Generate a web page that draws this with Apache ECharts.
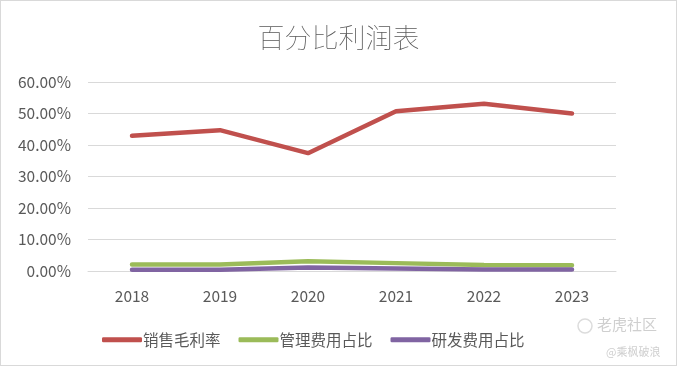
<!DOCTYPE html>
<html><head><meta charset="utf-8">
<script src="https://cdn.jsdelivr.net/npm/echarts@6/dist/echarts.min.js"></script>
<style>html,body{margin:0;padding:0;background:#fff}#c{width:677px;height:366px;box-sizing:border-box;border:1px solid #d9d9d9}</style>
</head><body><div id="c"></div>
<script>
const years = ['2018','2019','2020','2021','2022','2023'];
const grossMargin = [0.429, 0.447, 0.374, 0.507, 0.531, 0.500];
const adminRatio = [0.021, 0.021, 0.031, 0.025, 0.019, 0.018];
const rdRatio = [0.004, 0.004, 0.011, 0.008, 0.005, 0.005];
const seriesNames = ['销售毛利率','管理费用占比','研发费用占比'];
const colors = ['#C0504D','#9BBB59','#8064A2'];
const chart = echarts.init(document.getElementById('c'));
const font = '"Microsoft YaHei","Noto Sans CJK SC",sans-serif';
chart.setOption({
  animation:false,
  color: colors,
  title:{text:'百分比利润表',left:'center',top:18,textStyle:{fontFamily:font,fontSize:27,fontWeight:'lighter',color:'#595959'}},
  grid:{left:87,right:60,top:81,bottom:94,containLabel:false},
  legend:{top:326,left:96,itemWidth:40,itemHeight:5,itemGap:18,icon:'roundRect',
    textStyle:{fontFamily:font,fontSize:15.5,color:'#595959',padding:[0,0,0,-4]},data:seriesNames},
  xAxis:{type:'category',data:years,boundaryGap:true,axisLine:{lineStyle:{color:'#d9d9d9'}},axisTick:{show:false},
    axisLabel:{fontFamily:font,fontSize:15.5,color:'#595959',margin:17}},
  yAxis:{type:'value',min:0,max:0.6,interval:0.1,axisLine:{show:false},axisTick:{show:false},
    splitLine:{lineStyle:{color:'#d9d9d9',width:1.2}},
    axisLabel:{fontFamily:font,fontSize:15.5,color:'#595959',margin:17,formatter:v=>(v*100).toFixed(2)+'%'}},
  series:[
    {name:seriesNames[0],type:'line',data:grossMargin,symbol:'none',lineStyle:{width:4.5,cap:'round'}},
    {name:seriesNames[1],type:'line',data:adminRatio,symbol:'none',lineStyle:{width:4.5,cap:'round'}},
    {name:seriesNames[2],type:'line',data:rdRatio,symbol:'none',lineStyle:{width:4.5,cap:'round'}}
  ],
  graphic:[
    {type:'circle',shape:{cx:584,cy:325,r:7},style:{fill:'none',stroke:'#dcdcdc',lineWidth:1.5}},
    {type:'text',left:596,top:316,style:{text:'老虎社区',font:'15px '+font,fill:'#cfcfcf'}},
    {type:'text',left:605,top:345,style:{text:'@乘枫破浪',font:'11px '+font,fill:'#cfcfcf'}}
  ]
});
</script></body></html>
